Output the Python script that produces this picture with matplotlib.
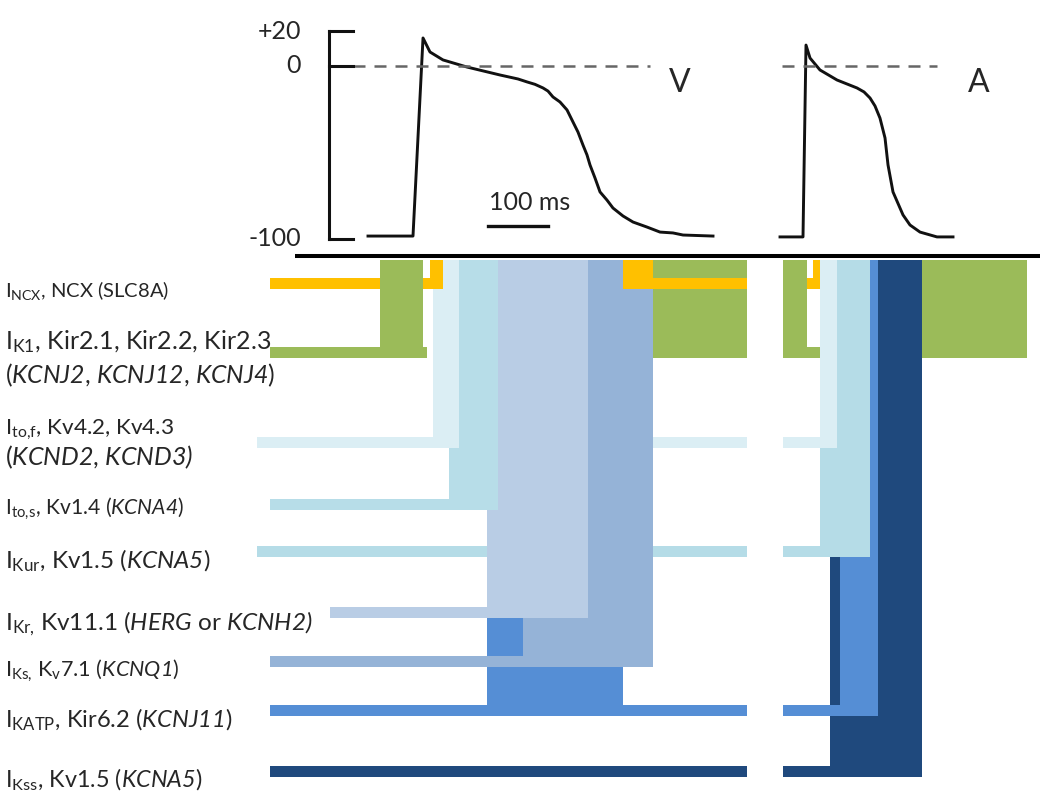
import matplotlib
matplotlib.use("Agg")
import matplotlib.pyplot as plt

plt.rcParams["font.family"] = ["Lato", "DejaVu Sans"]
plt.rcParams["mathtext.fontset"] = "custom"
plt.rcParams["mathtext.rm"] = "Lato"
plt.rcParams["mathtext.it"] = "Lato:italic"
# sf slot used for gene names so digits and brackets are italic too
plt.rcParams["mathtext.sf"] = "Lato:italic"
plt.rcParams["mathtext.bf"] = "Lato:bold"

# ventricular action potential (time in ms, voltage in mV)
vent_t = [-75, 0, 16.7, 28.3, 50, 90, 145, 175, 190, 203.3, 216.7, 225, 233.3, 245,
          256.7, 266.7, 275, 283.3, 290, 295, 303.3, 311.7, 323.3, 333.3, 350,
          366.7, 390, 411.7, 433.3, 450, 500]
vent_mv = [-98.3, -98.3, 16.2, 8.1, 3.5, -0.6, -5.2, -7.5, -9.2, -10.6, -12.7,
           -14.5, -17.9, -20.8, -25.4, -32.4, -38.2, -45.7, -51.4, -57.2, -64.7,
           -72.8, -77.5, -82.1, -86.7, -90.2, -93.1, -96.0, -96.5, -97.7, -98.3]

# atrial action potential
atr_t = [611.7, 650, 655, 661.7, 678.3, 706.7, 740, 751.7, 761.7, 770, 778.3,
         786.7, 791.7, 800, 816.7, 828.3, 845, 873.3, 900]
atr_mv = [-98.8, -98.8, 12.1, 4.6, -2.3, -8.1, -12.7, -15.0, -18.5, -23.1, -30.1,
          -41.6, -57.2, -72.8, -86.1, -91.9, -96.0, -98.8, -98.8]

zero_spans = [(-100, 395), (615, 873.3)]
mv_ticks = [20, 0, -100]
mv_tick_labels = ["+20", "0", "-100"]

# currents: row position, colour, baseline spans, active spans (ms)
row_names = ["NCX", "K1", "to,f", "to,s", "Kur", "Kr", "Ks", "KATP", "Kss"]
row_y = [283, 352, 442, 504, 551, 612, 661, 710, 771]
row_colors = ["#FFC000", "#9BBB59", "#DBEEF4", "#B7DDE8", "#B5DCE7",
              "#B9CDE5", "#95B3D7", "#558ED5", "#1F497D"]
line_spans = [
    [(-238, -55), (16.7, 50), (350, 556.7), (656.7, 678.3)],
    [(-238, 23.3), (400, 556.7), (616.7, 678.3)],
    [(-260, 33.3), (400, 556.7), (616.7, 678.3)],
    [(-238, 60)],
    [(-260, 123.3), (400, 556.7), (616.7, 678.3)],
    [(-138.3, 123.3)],
    [(-238, 400)],
    [(-238, 556.7), (616.7, 711.7)],
    [(-238, 556.7), (616.7, 695)],
]
block_spans = [
    [(28.3, 50), (350, 400), (666.7, 678.3)],
    [(-55, 16.7), (400, 556.7), (616.7, 656.7), (848.3, 1023.3)],
    [(33.3, 76.7), (678.3, 706.7)],
    [(60, 141.7)],
    [(678.3, 761.7)],
    [(123.3, 291.7)],
    [(183.3, 400)],
    [(123.3, 350), (711.7, 775)],
    [(695, 848.3)],
]

label_lines = [
    (297, 14.5, r"I$_{\mathrm{NCX}}$, NCX (SLC8A)"),
    (349, 18, r"I$_{\mathrm{K1}}$, Kir2.1, Kir2.2, Kir2.3"),
    (383, 17.8, r"($\mathsf{KCNJ2}$, $\mathsf{KCNJ12}$, $\mathsf{KCNJ4}$)"),
    (435, 16.2, r"I$_{\mathrm{to{,}f}}$, Kv4.2, Kv4.3"),
    (465, 18, r"($\mathsf{KCND2}$, $\mathsf{KCND3)}$"),
    (515, 15.2, r"I$_{\mathrm{to{,}s}}$, Kv1.4 ($\mathsf{KCNA4}$)"),
    (568, 17.5, r"I$_{\mathrm{Kur}}$, Kv1.5 ($\mathsf{KCNA5}$)"),
    (630, 17.6, r"I$_{\mathrm{Kr{,}}}$ Kv11.1 ($\mathsf{HERG}$ or $\mathsf{KCNH2)}$"),
    (677, 15.6, r"I$_{\mathrm{Ks{,}}}$ K$_{\mathrm{v}}$7.1 ($\mathsf{KCNQ1}$)"),
    (727, 17.1, r"I$_{\mathrm{KATP}}$, Kir6.2 ($\mathsf{KCNJ11}$)"),
    (787, 16.8, r"I$_{\mathrm{Kss}}$, Kv1.5 ($\mathsf{KCNA5}$)"),
]

TEXT = "#262626"
T_MIN, T_MAX = -688.33, 1051.67
BAR_TOP, HALF = 260, 5.5

fig = plt.figure(figsize=(10.44, 7.91), dpi=100)
ax = fig.add_axes([0, 0, 1, 1])
ax.set_xlim(T_MIN, T_MAX)
ax.set_ylim(791, 0)
ax.axis("off")

ax_ap = fig.add_axes([0, 0, 1, 1], sharex=ax)
ax_ap.set_ylim(-419.08, 38.15)
ax_ap.axis("off")
ax_ap.patch.set_alpha(0)

# current rows, upper rows drawn on top
for i, (y, color) in enumerate(zip(row_y, row_colors)):
    z = 20 - i
    for t0, t1 in line_spans[i]:
        ax.bar(t0, 2 * HALF, width=t1 - t0, bottom=y - HALF, align="edge",
               color=color, linewidth=0, zorder=z)
    for t0, t1 in block_spans[i]:
        ax.bar(t0, y + HALF - BAR_TOP, width=t1 - t0, bottom=BAR_TOP, align="edge",
               color=color, linewidth=0, zorder=z)

ax.plot([-196.7, 1045], [256, 256], color="black", lw=2.9, zorder=40,
        solid_capstyle="butt")

for y, size, s in label_lines:
    ax.text(-680, y, s, fontsize=size, color=TEXT, ha="left", va="baseline")

# action potential panel
ax_ap.plot(vent_t, vent_mv, color="#111111", lw=2.1, solid_joinstyle="round")
ax_ap.plot(atr_t, atr_mv, color="#111111", lw=2.1, solid_joinstyle="round")
for t0, t1 in zero_spans:
    ax_ap.plot([t0, t1], [0, 0], color="#666666", lw=1.8, dashes=(4.8, 3.6))

ax_ap.plot([-140, -140], [mv_ticks[0], mv_ticks[-1]], color="#111111", lw=2.2,
           solid_capstyle="projecting")
for v, lab in zip(mv_ticks, mv_tick_labels):
    ax_ap.plot([-140, -100], [v, v], color="#111111", lw=2.2)
    ax_ap.text(-186.7, v, lab, fontsize=18, color=TEXT, ha="right", va="center")

ax_ap.plot([125, 225], [-92.5, -92.5], color="#111111", lw=2.4)
ax_ap.text(195, -79, "100 ms", fontsize=18, color=TEXT, ha="center", va="center")
ax_ap.text(445, -9.8, "V", fontsize=23, color=TEXT, ha="center", va="center")
ax_ap.text(943, -9.8, "A", fontsize=23, color=TEXT, ha="center", va="center")

fig.savefig("out.png", dpi=100)
